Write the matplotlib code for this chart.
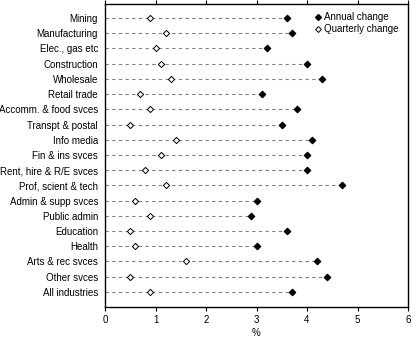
import matplotlib
matplotlib.use('Agg')
import matplotlib.pyplot as plt
from matplotlib.lines import Line2D

# Дані
industries = ['Mining', 'Manufacturing', 'Elec., gas etc', 'Construction', 'Wholesale',
              'Retail trade', 'Accomm. & food svces', 'Transpt & postal', 'Info media',
              'Fin & ins svces', 'Rent, hire & R/E svces', 'Prof, scient & tech',
              'Admin & supp svces', 'Public admin', 'Education', 'Health',
              'Arts & rec svces', 'Other svces', 'All industries']
annual = [3.6, 3.7, 3.2, 4.0, 4.3, 3.1, 3.8, 3.5, 4.1, 4.0, 4.0, 4.7,
          3.0, 2.9, 3.6, 3.0, 4.2, 4.4, 3.7]
quarterly = [0.9, 1.2, 1.0, 1.1, 1.3, 0.7, 0.9, 0.5, 1.4, 1.1, 0.8, 1.2,
             0.6, 0.9, 0.5, 0.6, 1.6, 0.5, 0.9]
xticks = [0, 1, 2, 3, 4, 5, 6]

plt.rcParams['font.family'] = ['Liberation Sans', 'DejaVu Sans']
plt.rcParams['font.size'] = 7

fig = plt.figure(figsize=(4.16, 3.4), dpi=100)
ax = fig.add_axes([105 / 416, 1 - 307 / 340, 303 / 416, 303 / 340])

y = list(range(len(industries)))

# Пунктирні лінії від 0 до найбільшого значення
for i in y:
    ax.plot([0, max(annual[i], quarterly[i])], [i, i], color='#808080',
            linestyle=(0, (3, 3)), linewidth=0.8, zorder=1)

ax.scatter(annual, y, marker='D', s=10, color='black', zorder=3)
ax.scatter(quarterly, y, marker='D', s=10, facecolor='white', edgecolor='black',
           linewidth=0.7, zorder=3)

ax.set_xlim(0, 6)
ax.set_ylim(len(industries) - 0.01, -0.92)
ax.set_xticks(xticks)
ax.set_yticks(y)
ax.set_yticklabels(industries)
ax.tick_params(axis='y', length=0, pad=5)
ax.tick_params(axis='x', direction='out', length=3, pad=3, top=True)
ax.set_xlabel('%', labelpad=2)
for s in ax.spines.values():
    s.set_linewidth(1.0)

handles = [Line2D([], [], marker='D', color='black', linestyle='none', markersize=3),
           Line2D([], [], marker='D', markerfacecolor='white', markeredgecolor='black',
                  markeredgewidth=0.7, linestyle='none', markersize=3)]
ax.legend(handles, ['Annual change', 'Quarterly change'], loc='upper right',
          frameon=False, handletextpad=0.1, borderaxespad=0.3, labelspacing=0.2,
          handlelength=1.0, bbox_to_anchor=(0.99, 0.995))

fig.savefig('out.png', dpi=100)
